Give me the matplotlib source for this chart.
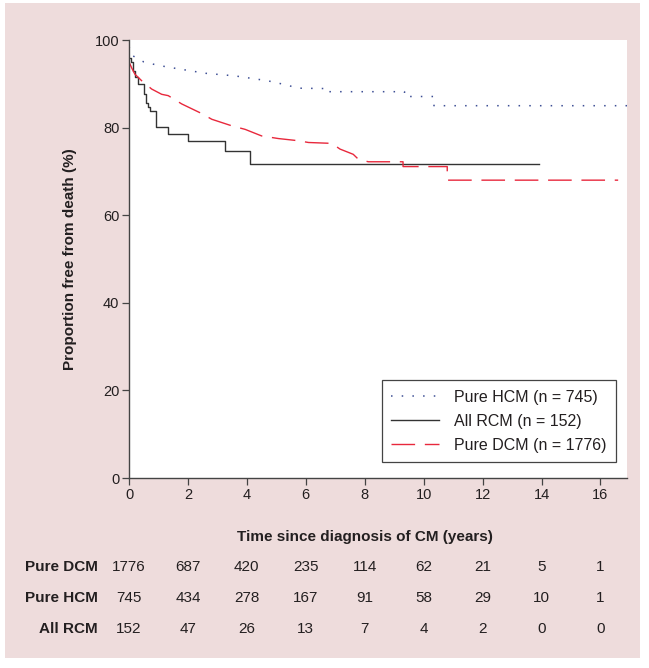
import matplotlib
matplotlib.use("Agg")
import matplotlib.pyplot as plt
from matplotlib.patches import Rectangle

plt.rcParams['font.family'] = ['Liberation Sans', 'DejaVu Sans']

# ---- data ----
hcm_t = [0, 0.1, 0.5, 1.0, 1.6, 2.6, 3.6, 4.7, 5.3, 5.75, 6.8, 6.8, 9.35, 9.35, 10.35, 10.35, 16.9]
hcm_v = [98.5, 96.5, 95.0, 94.2, 93.5, 92.4, 91.8, 90.7, 89.8, 89.0, 88.9, 88.2, 88.2, 87.1, 87.1, 85.0, 85.0]

rcm_t = [0, 0.08, 0.15, 0.22, 0.3, 0.5, 0.57, 0.64, 0.7, 0.92, 1.33, 2.01, 3.26, 4.12, 13.9]
rcm_v = [96.0, 95.0, 93.0, 91.5, 89.9, 87.6, 85.7, 84.7, 83.8, 80.1, 78.6, 77.0, 74.6, 71.6, 71.6]

dcm_t = [0, 0.1, 0.2, 0.43, 0.77, 1.11, 1.33, 1.79, 2.47, 2.81, 3.49, 3.94, 4.5, 5.07, 5.75,
         6.09, 6.88, 7.16, 7.61, 7.78, 8.12, 9.3, 9.3, 10.8, 10.8, 16.6]
dcm_v = [95.0, 93.5, 92.2, 90.7, 88.8, 87.6, 87.3, 85.4, 83.2, 81.9, 80.4, 79.6, 78.1, 77.5, 77.0,
         76.6, 76.4, 75.1, 73.9, 72.8, 72.2, 72.2, 71.1, 71.1, 68.0, 68.0]

x_ticks = [0, 2, 4, 6, 8, 10, 12, 14, 16]
y_ticks = [0, 20, 40, 60, 80, 100]
row_labels = ["Pure DCM", "Pure HCM", "All RCM"]
at_risk_dcm = [1776, 687, 420, 235, 114, 62, 21, 5, 1]
at_risk_hcm = [745, 434, 278, 167, 91, 58, 29, 10, 1]
at_risk_rcm = [152, 47, 26, 13, 7, 4, 2, 0, 0]

# ---- figure ----
W, H = 649, 668
fig = plt.figure(figsize=(W / 100, H / 100), dpi=100)
fig.patch.set_facecolor('white')
pink = '#eedcdc'
fig.patches.append(Rectangle((5 / W, 1 - 658 / H), (640 - 5) / W, (658 - 3) / H,
                             transform=fig.transFigure, facecolor=pink, edgecolor='none', zorder=-10))

ax_l, ax_r, ax_t, ax_b = 129, 626.7, 40, 478
ax = fig.add_axes([ax_l / W, 1 - ax_b / H, (ax_r - ax_l) / W, (ax_b - ax_t) / H])
ax.set_facecolor('white')

txtc = '#231f20'
ax.plot(hcm_t, hcm_v, color='#3d4f95', lw=1.1, linestyle=(0, (1, 6)), label='Pure HCM (n = 745)')
ax.plot(rcm_t, rcm_v, color='#333333', lw=1.0, drawstyle='steps-post', label='All RCM (n = 152)')
ax.plot(dcm_t, dcm_v, color='#e8283c', lw=1.0, linestyle=(0, (17, 7)), label='Pure DCM (n = 1776)')

ax.set_xlim(0, 16.89)
ax.set_ylim(0, 100)
ax.set_xticks(x_ticks)
ax.set_yticks(y_ticks)
for s in ['top', 'right']:
    ax.spines[s].set_visible(False)
for s in ['left', 'bottom']:
    ax.spines[s].set_color('#444444')
    ax.spines[s].set_linewidth(1.0)
ax.tick_params(axis='both', length=5, width=0.9, color='#444444', pad=2,
               labelsize=10.5, labelcolor=txtc)

leg = ax.legend(loc='lower right', bbox_to_anchor=(0.978, 0.036), borderaxespad=0,
                fontsize=11.5, handlelength=3.0, handletextpad=0.9, labelspacing=0.55,
                fancybox=False, framealpha=1, edgecolor='#444444', borderpad=0.6)
leg.get_frame().set_linewidth(0.9)
for t in leg.get_texts():
    t.set_color(txtc)

fig.text(365 / W, 1 - 537 / H, 'Time since diagnosis of CM (years)', ha='center', va='center',
         fontsize=11, fontweight='bold', color=txtc)
fig.text(70 / W, 1 - 259 / H, 'Proportion free from death (%)', ha='center', va='center',
         rotation=90, fontsize=11, fontweight='bold', color=txtc)

# at-risk table
rows = [at_risk_dcm, at_risk_hcm, at_risk_rcm]
row_y = [567, 598, 629]
for lab, vals, py in zip(row_labels, rows, row_y):
    yf = 1 - py / H
    fig.text(97.5 / W, yf, lab, ha='right', va='center', fontsize=11, fontweight='bold', color=txtc)
    for xv, n in zip(x_ticks, vals):
        xd = ax.transData.transform((xv, 0))[0]
        fig.text(xd / W, yf, str(n), ha='center', va='center', fontsize=11, color=txtc)

fig.savefig('out.png', dpi=100, facecolor=fig.get_facecolor())
